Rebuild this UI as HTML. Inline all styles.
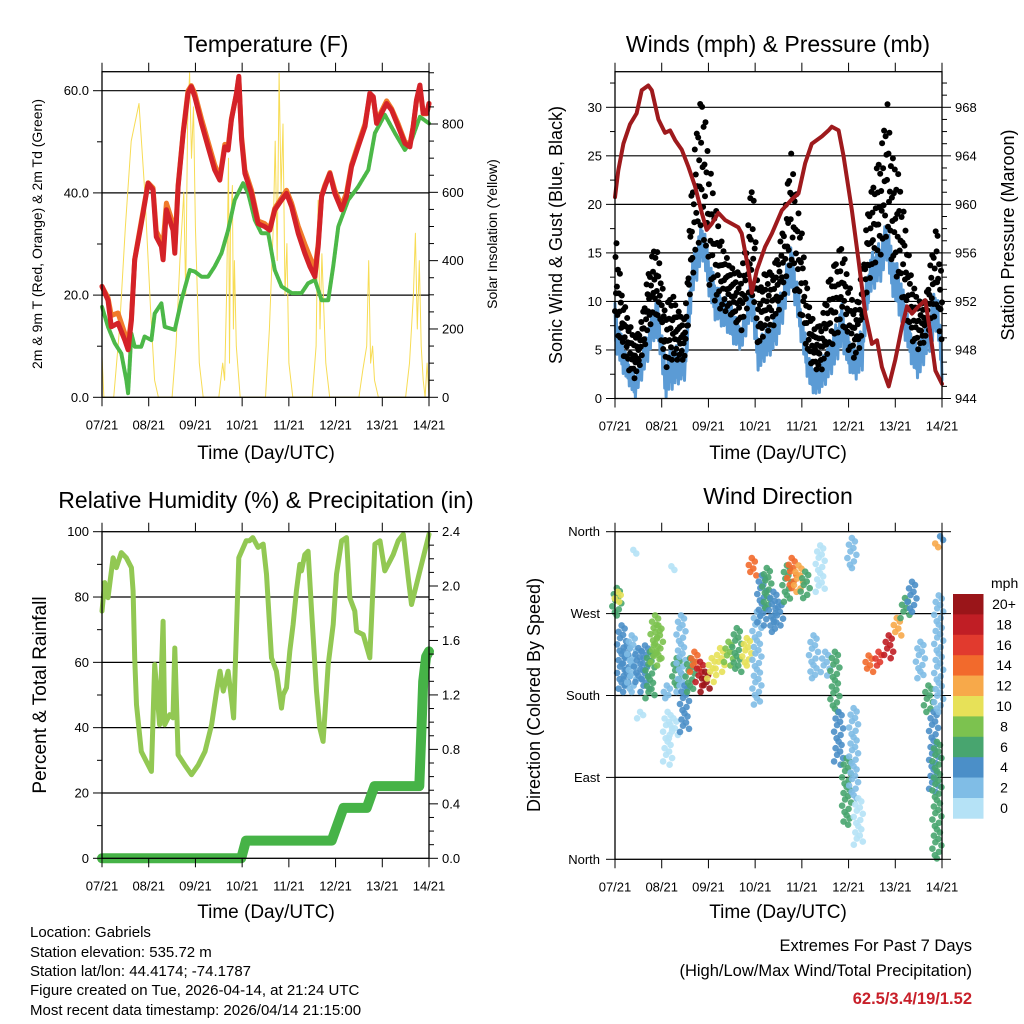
<!DOCTYPE html>
<html><head><meta charset="utf-8"><style>
html,body{margin:0;padding:0;background:#fff}
svg{display:block;font-family:"Liberation Sans",Arial,sans-serif}
</style></head><body>
<svg id="chart" width="1024" height="1024" viewBox="0 0 1024 1024" xmlns="http://www.w3.org/2000/svg">
<rect width="1024" height="1024" fill="#fff"/>
<g id="p1"></g>
<g id="p2"></g>
<g id="p3"></g>
<g id="p4"></g>
<g id="static" font-size="13" fill="#000">
<text x="266" y="52" font-size="23" text-anchor="middle">Temperature (F)</text>
<text x="778" y="52" font-size="23" text-anchor="middle">Winds (mph) &amp; Pressure (mb)</text>
<text x="266" y="508" font-size="23" text-anchor="middle">Relative Humidity (%) &amp; Precipitation (in)</text>
<text x="778" y="504" font-size="23" text-anchor="middle">Wind Direction</text>
<text x="266" y="459" font-size="19" text-anchor="middle">Time (Day/UTC)</text>
<text x="778" y="459" font-size="19" text-anchor="middle">Time (Day/UTC)</text>
<text x="266" y="918" font-size="19" text-anchor="middle">Time (Day/UTC)</text>
<text x="778" y="918" font-size="19" text-anchor="middle">Time (Day/UTC)</text>
<text transform="translate(42,234) rotate(-90)" font-size="14" text-anchor="middle">2m &amp; 9m T (Red, Orange) &amp; 2m Td (Green)</text>
<text transform="translate(497,234) rotate(-90)" font-size="14" text-anchor="middle">Solar Insolation (Yellow)</text>
<text transform="translate(562,235) rotate(-90)" font-size="18" text-anchor="middle">Sonic Wind &amp; Gust (Blue, Black)</text>
<text transform="translate(1014,235) rotate(-90)" font-size="18" text-anchor="middle">Station Pressure (Maroon)</text>
<text transform="translate(46,695) rotate(-90)" font-size="19" text-anchor="middle">Percent &amp; Total Rainfall</text>
<text transform="translate(540,695) rotate(-90)" font-size="18" text-anchor="middle">Direction (Colored By Speed)</text>
<text x="30" y="937" font-size="15">Location: Gabriels</text>
<text x="30" y="957" font-size="15">Station elevation: 535.72 m</text>
<text x="30" y="976" font-size="15">Station lat/lon: 44.4174; -74.1787</text>
<text x="30" y="995" font-size="15">Figure created on Tue, 2026-04-14, at 21:24 UTC</text>
<text x="30" y="1015" font-size="15">Most recent data timestamp: 2026/04/14 21:15:00</text>
<text x="972" y="951" font-size="16.5" text-anchor="end">Extremes For Past 7 Days</text>
<text x="972" y="976" font-size="16.5" text-anchor="end">(High/Low/Max Wind/Total Precipitation)</text>
<text x="972" y="1004" font-size="16.5" font-weight="bold" fill="#c8202a" text-anchor="end">62.5/3.4/19/1.52</text>
<text x="991" y="588" font-size="14">mph</text>
</g>
</svg>
<script>
// ---------- data ----------
const dayLabels = ["07/21","08/21","09/21","10/21","11/21","12/21","13/21","14/21"];
const tempHours = [0,3.1,4.8,8.2,11.7,13.4,15.1,16.8,20.2,23.7,26.2,27.9,30.5,31.4,33.1,36.5,37.4,39.1,41.7,44.2,45.9,47.7,51.1,54.5,57.9,60.5,63.1,64.8,66.5,69.1,70.3,71.7,73.4,76.8,80.2,83.6,86.2,88.8,92.2,94.8,97.4,100.8,104.2,106.8,109.4,111.1,112.8,114.5,117.1,119.6,123.1,125.6,128.2,131.6,135.1,137.6,139.4,141.1,143.6,146.2,148.8,152.2,155.6,158.2,159.9,161.6,163.3,165,166.8,168];
const temp2m = [21.7,19,13.8,14.5,11.2,9.3,15,26.9,34,41.9,40.6,31.4,29.5,26.9,36.7,32.7,28.2,41.2,51.7,59.5,60.8,58.8,53.6,49,44.5,42.5,49,48.4,54.3,59.5,62.8,50.4,43.8,39.9,34,33.4,32.7,36.7,38.6,39.9,37.3,32.1,28.2,25.6,23.6,29.5,39.3,41.2,43.8,39.9,36.7,39.3,45.1,49,53,59.5,58.8,53.6,55.6,57.5,56.2,53,49.7,49,53,58.2,61.1,55.6,55.6,57.5];
const temp9m = [21.7,19.5,16,16.5,12.5,10.5,15.5,27,34.5,42,41,32.5,30.5,30,38,34,29,41.5,52,60,61,59.5,54.5,50,45.5,43,49.5,49,54.5,59.5,62.5,51,44.5,40.5,34.5,34,33,37,39,40.5,38,33.5,30,27.5,25,30,39.5,41.5,44,40.5,37.5,40,45.5,49.5,53.5,59,58.5,54,56,58,56.5,53.5,50,49.5,53,58,60.5,55.5,55.5,57.5];
const dewHours = [0,3.1,6.5,9.9,12.5,13.4,15.1,16.8,20.2,21.9,25.4,27.1,30.5,32.2,37.4,40.8,45.1,47.7,51.1,54.5,57.9,61.4,64.8,68.2,72.5,75.1,78.5,81.9,85.4,88.8,92.2,97.4,102.5,105.9,109.4,112.8,116.2,118.8,121.4,126.5,131.6,136.8,140.2,145.3,150.5,155.6,159.1,163.3,168];
const dewpoint = [17.7,13.8,10.6,8.6,3.4,0.8,12.5,9.9,9.9,11.9,11.2,16.4,18.4,13.8,13.2,19,24.9,24.6,23.6,23.6,25.6,28.2,32.7,38.6,41.9,39.9,34.7,32.1,32.1,24.9,21.7,20.4,20.4,22.3,23,19,19,25.6,33.4,38.6,41.2,44.5,51.7,55.3,51.7,48.4,50.4,54.9,53.6];
const solarHours = [0,1,6,9,12,15,19,22,25,27,29,36,38,40,42,43,44,45,46,47,48,49,50,52,60,62,63,64,65,65.5,66,67,67.5,68,69,71,84,86,88,89,90,91,92,93,94,95,96,98,108,110,111,112,113,114,115,117,132,134,136,137,138,139,140,142,156,158,160,161,162,163,164,165,166,167,168];
const solar = [120,0,0,200,500,750,860,600,250,50,0,0,150,400,600,300,800,950,700,850,500,300,100,0,0,100,50,300,700,100,500,620,200,400,150,0,0,200,500,750,400,948,600,800,300,450,100,0,0,150,577,200,420,250,100,0,0,80,150,400,100,150,50,0,0,100,300,480,200,400,150,50,0,100,0];

const windHours = [0,3.4,6.9,10.3,13.7,17.1,20.6,23.1,25.7,29.1,32.6,36,39.4,42.9,45.4,48,51.4,54.9,58.3,61.7,65.1,68.6,70.3,73.7,77.1,80.6,84,87.4,90,92.6,96,99.4,102.9,106.3,109.7,113.1,116.6,120,123.4,126.9,130.3,133.7,137.1,139.7,142.3,145.7,149.1,152.6,156,159.4,162.9,165.4,168];
const windHi = [9.8,6.4,4,2.2,4.6,7.4,10.5,8.8,4,5.7,5.3,5,14.3,17,18.4,14.9,12.2,10.8,10.1,8.8,7.4,10.8,12.9,5.7,7.4,7.4,10.1,12.6,16.3,13.6,8.8,4.6,2.9,4,5.7,7.4,9.8,6.7,5.3,7.4,14.3,15.6,16.3,18.7,14.9,13.6,10.1,6.7,5.3,8.1,10.1,11.9,4.6];
const windLo = [5.3,2.9,1.5,0,1.9,4,6.4,4.6,0,0.9,1.5,1.9,10.1,12.9,14.3,10.8,8.1,7.4,6.7,5.3,5,7.4,8.1,2.6,4,4.6,6,8.8,11.5,9.5,5.3,1.5,0.2,0.9,1.9,3.3,5.3,2.9,1.9,2.6,10.1,11.5,12.2,14.3,10.8,8.8,6,3.3,1.9,4,5.3,7.4,1.9];
const gustHi = [18,11,8,6,8,13,16,14,9,11,9,8,22,30,31,25,20,16,14,13,13,18,24,11,13,13,15,19,26,22,17,10,7,8,12,14,16,12,9,13,20,23,26,31,25,23,18,12,10,10,15,18,12];
const gustLo = [8,5,3,2,4,7,9,7,3,4,4,4,12,16,17,12,10,9,9,8,7,10,11,5,7,7,9,11,14,11,8,4,3,3,5,6,8,5,4,6,12,14,15,17,14,12,9,6,5,6,8,9,5];
const presHours = [0,1.7,4.3,7.7,11.1,13.7,17.1,18.9,22.3,25.7,28.3,30.9,34.3,37.7,41.1,44.6,47.1,49.7,53.1,56.6,60,63.4,65.1,68.6,70.3,72.9,77.1,80.6,85.7,90.8,94.3,97.7,101.1,106.3,109.7,111.4,114.9,117.4,121.7,125.1,128.6,132,134.6,137.1,140.6,144,147.4,150,152.6,156,159.4,162,164.6,168];
const pressure = [960.6,962.8,965,966.6,967.5,969.4,969.8,969.4,967,965.9,966.1,965.3,964.5,963.1,961.5,959.3,957.9,958.4,959.3,958.7,958.4,958.1,957.6,954.6,952.7,954.6,956.5,957.6,959.5,960.4,960.9,963.4,965,965.6,966.1,966.4,966.1,964,959.5,955.4,951,948.5,948.8,946.6,945,947.2,949.9,951.6,951,951.6,952.1,949.4,946.3,945.2];

const rhHours = [0,1.4,3.1,5.7,7.4,9.9,12.5,15.1,16,16.8,17.7,20.2,23.7,25.4,27.1,29.6,31.4,32.2,34.8,36.5,37.4,39.1,42.5,46,49.5,52.9,56.3,58.9,60.6,62.3,64.8,66.9,67.6,70.3,74.1,75.8,77.5,80.2,82.8,84.5,87.1,89.6,92.2,93.1,94.8,96.5,98.2,99.9,101.6,102.5,104.2,105.9,107.6,110.2,111.9,113.6,116.2,118.8,120.5,123.1,125.6,127.3,129.9,130.8,134.2,137.6,140.2,142.8,145.3,147.9,149.6,152.2,154.8,157.3,159,168];
const rh = [75.7,84.4,79.8,92,89,93.6,92,89,81.8,61.4,47,32.7,28.6,26.6,59.3,40.9,72.6,40.9,44,43,64.4,31.7,28.6,25.6,28.6,32.7,40.9,51.2,57.3,51.2,57.3,47,43,92,97.2,97.2,98.2,95.2,96.2,87,61.4,57.3,46,50.1,52.2,63.4,71.6,81.8,90,88,93,94,76.7,51.2,39.9,35.8,59.3,71.6,87,97.2,98.2,79.8,75.7,69.5,68.5,61.4,96.2,97.2,88,91,93,97.2,99.2,86,77.7,99.2];
const rainHours = [0,71.5,74,118,124,136,140,163,164,165,166.5,168];
const rainTotal = [0,0,0.13,0.13,0.37,0.37,0.53,0.53,0.9,1.3,1.48,1.52];

// wind direction segments: hour, dir low (deg), dir high (deg), speed (mph)
const dirHour = [0.9,1.4,3.4,6,8.6,9.4,12,12.9,15.4,18,20.6,22.3,26.6,27,29,30,31.7,33.9,35.7,38.6,40.8,43.7,46.3,49.7,54,58.3,62.6,67.7,70.3,72.9,75.4,78,81.4,84,88.3,90.8,94.3,97.7,102,105.4,108,113,114.9,119,122.6,121.7,125,130.3,135.4,140.6,144.8,149,152.6,156.9,161,163.7,165.4,164.5,166.3,167];
const dirLo = [268,283,184,191,184,336,195,155,184,177,213,221,177,104,318,133,191,184,140,184,206,191,184,195,206,213,206,213,312,170,257,276,250,257,283,298,294,287,199,294,202,162,104,38,67,320,16,206,213,221,246,265,272,199,162,74,1,343,162,351];
const dirHi = [298,294,257,235,246,340,232,162,235,228,268,257,191,162,322,155,221,268,191,221,228,217,206,221,232,239,254,243,331,272,312,320,294,283,323,331,323,316,246,345,228,228,162,111,166,353,67,224,228,246,265,287,305,239,191,162,129,347,290,355];
const dirSpeed = [7,10,4,4,2,1,4,1,4,6,9,8,2,1,1,1,6,3,4,6,14,18,20,10,10,8,7,10,15,3,4,6,4,4,7,14,12,7,2,1,3,7,4,6,2,3,1,15,17,18,12,6,4,3,6,4,6,13,3,4];
const speedColors = ["#b5e2f6","#80bde6","#4b8fc8","#48a56f","#7cc24f","#e7e158","#f7a94a","#f26a2c","#e13a2e","#c01e25","#9a1519"];
const colorbarLabels = ["0","2","4","6","8","10","12","14","16","18","20+"];

// ---------- helpers ----------
const NS = "http://www.w3.org/2000/svg";
function mk(parent, tag, attrs) {
  const e = document.createElementNS(NS, tag);
  for (const k in attrs) e.setAttribute(k, attrs[k]);
  parent.appendChild(e);
  return e;
}
function interp(hs, vs, h) {
  if (h <= hs[0]) return vs[0];
  for (let i = 1; i < hs.length; i++) {
    if (h <= hs[i]) { const f = (h - hs[i-1]) / (hs[i] - hs[i-1]); return vs[i-1] + f * (vs[i] - vs[i-1]); }
  }
  return vs[vs.length - 1];
}
function makeX(x0, x1) { return h => x0 + h / 168 * (x1 - x0); }
function linScale(v0, y0, v1, y1) { return v => y0 + (v - v0) / (v1 - v0) * (y1 - y0); }

function frame(g, x0, x1, yT, yB, name) {
  const r = mk(g, "rect", {x: x0, y: yT, width: x1 - x0, height: yB - yT, fill: "none", stroke: "#000", "stroke-width": 1.3});
  
  
}
function xAxis(g, xs, yT, yB) {
  for (let d = 0; d <= 7; d++) {
    const x = xs(d * 24);
    mk(g, "line", {x1: x, x2: x, y1: yB, y2: yB + 9, stroke: "#000", "stroke-width": 1});
    mk(g, "line", {x1: x, x2: x, y1: yT, y2: yT - 9, stroke: "#000", "stroke-width": 1});
    const t = mk(g, "text", {x: x, y: yB + 32, "font-size": 13, "text-anchor": "middle"});
    t.textContent = dayLabels[d];
    
    
  }
}
function yTicks(g, side, x, scale, vMin, vMax, minorStep, majorStep, fmt) {
  const dir = side === "left" ? -1 : 1;
  const n = Math.round((vMax - vMin) / minorStep);
  for (let i = 0; i <= n; i++) {
    const v = vMin + i * minorStep;
    const y = scale(v);
    const isMajor = Math.abs(((v - vMin) / majorStep) - Math.round((v - vMin) / majorStep)) < 1e-6;
    mk(g, "line", {x1: x, x2: x + dir * (isMajor ? 9 : 5), y1: y, y2: y, stroke: "#000", "stroke-width": 1});
    if (isMajor && fmt) {
      const t = mk(g, "text", {x: x + dir * 13, y: y + 4.5, "font-size": 13, "text-anchor": side === "left" ? "end" : "start"});
      t.textContent = fmt(v);
      
      
    }
  }
}
function hgrid(g, x0, x1, ys) {
  ys.forEach(y => mk(g, "line", {x1: x0, x2: x1, y1: y, y2: y, stroke: "#000", "stroke-width": 1.2}));
}
function polyline(g, hs, vs, xs, ys, attrs, name) {
  const pts = hs.map((h, i) => xs(h).toFixed(1) + "," + ys(vs[i]).toFixed(1)).join(" ");
  const p = mk(g, "polyline", Object.assign({points: pts, fill: "none", "stroke-linejoin": "round", "stroke-linecap": "round"}, attrs));
  
  
  return p;
}

// ---------- panel 1: temperature ----------
(function () {
  const g = document.getElementById("p1");
  const x0 = 102, x1 = 429, yT = 71.7, yB = 397.3;
  const xs = makeX(x0, x1);
  const ty = linScale(0, yB, 60, 90.7);
  const sy = linScale(0, yB, 800, 124);
  hgrid(g, x0, x1, [20, 40, 60].map(ty));
  polyline(g, solarHours, solar, xs, sy, {stroke: "#f7dc55", "stroke-width": 1}, "solar-line");
  polyline(g, dewHours, dewpoint, xs, ty, {stroke: "#4cb848", "stroke-width": 4, "stroke-dasharray": "3 1.2"}, "dewpoint-line");
  polyline(g, tempHours, temp9m, xs, ty, {stroke: "#f07a2a", "stroke-width": 5}, "temp-9m-line");
  polyline(g, tempHours, temp2m, xs, ty, {stroke: "#d42228", "stroke-width": 5}, "temp-2m-line");
  frame(g, x0, x1, yT, yB, "temperature-plot-frame");
  xAxis(g, xs, yT, yB);
  yTicks(g, "left", x0, ty, 0, 60, 10, 20, v => v.toFixed(1));
  yTicks(g, "right", x1, sy, 0, 950, 50, 200, v => String(v));
})();

// ---------- panel 2: winds ----------
(function () {
  const g = document.getElementById("p2");
  const x0 = 615, x1 = 942, yT = 71.7, yB = 398.5;
  const xs = makeX(x0, x1);
  const wy = linScale(0, yB, 30, 107.3);
  const py = linScale(944, yB, 968, 107.3);
  hgrid(g, x0, x1, [5, 10, 15, 20, 25, 30].map(wy));
  const pat = [1, 0.2, 0.8, 0, 0.6, 0.3, 0.9, 0.1, 0.7];
  const bh = [], bv = [];
  for (let i = 0; i * 0.35 <= 168; i++) {
    const h = i * 0.35;
    const hi = interp(windHours, windHi, h), lo = interp(windHours, windLo, h);
    bh.push(h); bv.push(lo + (hi - lo) * pat[i % pat.length]);
  }
  polyline(g, bh, bv, xs, wy, {stroke: "#5b9bd5", "stroke-width": 3}, "sonic-wind-line");
  const pat2 = [0.1, 0.7, 0.35, 0.95, 0.5, 0.2, 0.8, 0.0, 0.6, 0.4, 1.0];
  const gd = mk(g, "g", {fill: "#000"});
  
  
  for (let i = 0; i * 0.25 <= 168; i++) {
    const h = i * 0.25;
    const hi = interp(windHours, gustHi, h), lo = interp(windHours, gustLo, h);
    const v = lo + (hi - lo) * pat2[i % pat2.length];
    const c = mk(gd, "circle", {cx: xs(h).toFixed(1), cy: wy(v).toFixed(1), r: 3});
    
    
  }
  polyline(g, presHours, pressure, xs, py, {stroke: "#9e1a1d", "stroke-width": 4}, "pressure-line");
  frame(g, x0, x1, yT, yB, "winds-plot-frame");
  xAxis(g, xs, yT, yB);
  yTicks(g, "left", x0, wy, 0, 32.5, 2.5, 5, v => String(v));
  yTicks(g, "right", x1, py, 944, 970, 1, 4, v => String(v));
})();

// ---------- panel 3: humidity ----------
(function () {
  const g = document.getElementById("p3");
  const x0 = 102, x1 = 429, yT = 531.7, yB = 858.3;
  const xs = makeX(x0, x1);
  const ry = linScale(0, yB, 100, yT);
  const py = linScale(0, yB, 2.0, 586);
  hgrid(g, x0, x1, [20, 40, 60, 80].map(ry));
  polyline(g, rhHours, rh, xs, ry, {stroke: "#92c853", "stroke-width": 5}, "humidity-line");
  polyline(g, rainHours, rainTotal, xs, py, {stroke: "#46b347", "stroke-width": 10}, "rainfall-line");
  frame(g, x0, x1, yT, yB, "humidity-plot-frame");
  xAxis(g, xs, yT, yB);
  yTicks(g, "left", x0, ry, 0, 100, 10, 20, v => String(v));
  yTicks(g, "right", x1, py, 0, 2.4, 0.1, 0.4, v => v.toFixed(1));
})();

// ---------- panel 4: wind direction ----------
(function () {
  const g = document.getElementById("p4");
  const x0 = 615, x1 = 942, yT = 531.7, yB = 859.3;
  const xs = makeX(x0, x1);
  const dy = linScale(0, yB, 360, yT);
  hgrid(g, x0, x1, [90, 180, 270].map(dy));
  const dg = mk(g, "g", {});
  
  
  const jit = [0, 3, -3, 1.5, -1.5, 4.5, -4.5, 2, -2];
  for (let s = 0; s < dirHour.length; s++) {
    const yA = dy(dirHi[s]), yZ = dy(dirLo[s]);
    const n = Math.max(1, Math.round((yZ - yA) / 3.2));
    const col = speedColors[Math.min(10, Math.floor(dirSpeed[s] / 2))];
    for (let k = 0; k <= n; k++) {
      const c = mk(dg, "circle", {cx: (xs(dirHour[s]) + jit[k % jit.length]).toFixed(1), cy: (yA + (yZ - yA) * k / n).toFixed(1), r: 3.3, fill: col, "fill-opacity": 0.9});
      
      
    }
  }
  frame(g, x0, x1, yT, yB, "direction-plot-frame");
  xAxis(g, xs, yT, yB);
  const dirNames = ["North", "East", "South", "West", "North"];
  dirNames.forEach((nm, i) => {
    const y = dy(i * 90);
    mk(g, "line", {x1: x0, x2: x0 - 9, y1: y, y2: y, stroke: "#000", "stroke-width": 1});
    mk(g, "line", {x1: x1, x2: x1 + 9, y1: y, y2: y, stroke: "#000", "stroke-width": 1});
    const t = mk(g, "text", {x: x0 - 15, y: y + 4.5, "font-size": 13, "text-anchor": "end"});
    t.textContent = nm;
    
    
  });
  const cb = mk(g, "g", {});
  
  
  const cbTop = 594, cbH = 20.4;
  for (let i = 0; i < speedColors.length; i++) {
    const idx = speedColors.length - 1 - i;
    const r = mk(cb, "rect", {x: 953, y: cbTop + i * cbH, width: 30.5, height: cbH + 0.3, fill: speedColors[idx]});
    
    
    const t = mk(cb, "text", {x: 1004, y: cbTop + i * cbH + 15, "font-size": 14, "text-anchor": "middle"});
    t.textContent = colorbarLabels[idx];
    
    
  }
})();
</script>
</body></html>
